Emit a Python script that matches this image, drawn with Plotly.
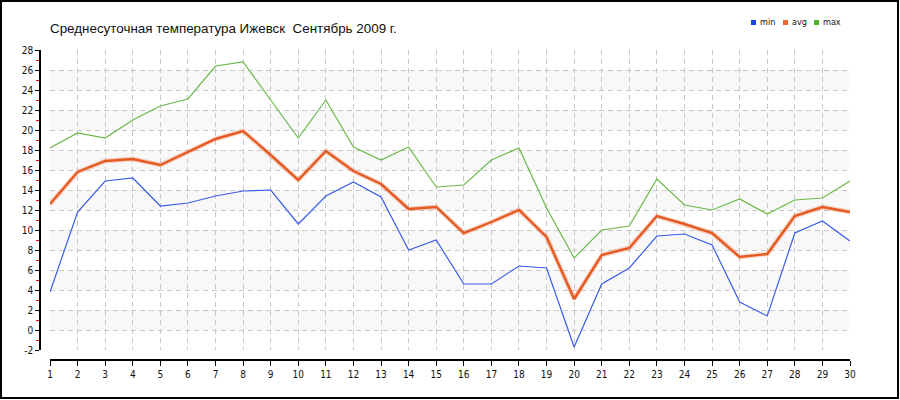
import plotly.graph_objects as go

days = list(range(1, 31))
t_min = [3.8, 11.8, 14.9, 15.2, 12.4, 12.7, 13.4, 13.9, 14.0, 10.6,
         13.4, 14.8, 13.3, 8.0, 9.0, 4.6, 4.6, 6.4, 6.2, -1.7,
         4.6, 6.2, 9.4, 9.6, 8.5, 2.8, 1.4, 9.7, 10.9, 8.9]
t_avg = [12.6, 15.8, 16.9, 17.1, 16.5, 17.8, 19.1, 19.9, 17.5, 15.0,
         17.9, 15.9, 14.6, 12.1, 12.3, 9.7, 10.8, 12.0, 9.3, 3.1,
         7.5, 8.2, 11.4, 10.6, 9.7, 7.3, 7.6, 11.4, 12.3, 11.8]
t_max = [18.2, 19.7, 19.2, 21.0, 22.4, 23.1, 26.4, 26.8, 23.0, 19.2,
         23.0, 18.3, 17.0, 18.3, 14.3, 14.5, 17.0, 18.2, 12.2, 7.2,
         10.0, 10.4, 15.1, 12.5, 12.0, 13.1, 11.6, 13.0, 13.2, 14.9]
y_ticks = list(range(-2, 29, 2))
bands = [(0, 2), (4, 6), (8, 10), (12, 14), (16, 18), (20, 22), (24, 26)]
series_names = ["min", "avg", "max"]

title = "Среднесуточная температура Ижевск  Сентябрь 2009 г."

C_MIN = "#3a5ce8"
C_AVG = "#e45a22"
C_MAX = "#6cb84a"
legend_colors = ["#1f44e6", "#ec6a34", "#4fae2a"]

W, H = 900, 400
l, r, t, b = 40, 50, 50, 40
pw, ph = W - l - r, H - t - b


def px(xp):
    return (xp - l) / pw


def py(yp):
    return 1 - (yp - t) / ph


fig = go.Figure()

fig.add_trace(go.Scatter(x=days, y=t_min, mode="lines", line=dict(color=C_MIN, width=1.2),
                         showlegend=False, name="min"))
fig.add_trace(go.Scatter(x=days, y=t_max, mode="lines", line=dict(color=C_MAX, width=1.2),
                         showlegend=False, name="max"))
fig.add_trace(go.Scatter(x=days, y=t_avg, mode="lines", line=dict(color="rgba(240,140,100,0.35)", width=5),
                         showlegend=False, hoverinfo="skip"))
fig.add_trace(go.Scatter(x=days, y=t_avg, mode="lines", line=dict(color=C_AVG, width=2.4),
                         showlegend=False, name="avg"))

shapes = []
for y0, y1 in bands:
    shapes.append(dict(type="rect", xref="x", yref="y", x0=days[0], x1=days[-1], y0=y0, y1=y1,
                       fillcolor="#f8f8f8", line=dict(width=0), layer="below"))
# outer border
shapes.append(dict(type="rect", xref="paper", yref="paper",
                   x0=px(1), x1=px(898), y0=py(398), y1=py(1),
                   line=dict(color="black", width=2), fillcolor="rgba(0,0,0,0)"))

# manual legend: squares + labels
annotations = []
leg_x = [751, 783, 814]
for i, (nm, col) in enumerate(zip(series_names, legend_colors)):
    x0 = leg_x[i]
    shapes.append(dict(type="rect", xref="paper", yref="paper",
                       x0=px(x0), x1=px(x0 + 5), y0=py(25), y1=py(20),
                       fillcolor=col, line=dict(width=0)))
    annotations.append(dict(text=nm, xref="paper", yref="paper", x=px(x0 + 7), y=py(22),
                            xanchor="left", yanchor="middle", showarrow=False,
                            font=dict(family="DejaVu Sans Condensed, DejaVu Sans", size=9, color="#111")))

tick_font = dict(family="DejaVu Sans Condensed, DejaVu Sans", size=10, color="#111")
grid_dash = "5px,4px"

fig.update_layout(
    width=W, height=H,
    margin=dict(l=l, r=r, t=t, b=b, autoexpand=False),
    paper_bgcolor="white", plot_bgcolor="white",
    title=dict(text=title, xref="container", yref="container", x=50 / W, xanchor="left",
               y=1 - 28 / H, yanchor="middle",
               font=dict(family="Liberation Sans, Arial", size=13.4, color="#111")),
    showlegend=False,
    shapes=shapes,
    annotations=annotations,
    xaxis=dict(domain=[10 / pw, 1], range=[1, 30], anchor="free", position=0,
               tickmode="array", tickvals=days, ticktext=[str(d) for d in days],
               showgrid=True, gridcolor="#c8c8c8", griddash=grid_dash, gridwidth=1,
               showline=True, linecolor="black", linewidth=1.5,
               ticks="outside", ticklen=5, tickcolor="black", tickfont=tick_font,
               zeroline=False, fixedrange=True),
    yaxis=dict(domain=[10 / ph, 1], range=[-2, 28], anchor="free", position=0,
               tickmode="array", tickvals=y_ticks, ticktext=[str(v) for v in y_ticks],
               showgrid=True, gridcolor="#c8c8c8", griddash=grid_dash, gridwidth=1,
               showline=True, linecolor="black", linewidth=1.5,
               ticks="outside", ticklen=4, tickcolor="black", tickfont=tick_font,
               minor=dict(dtick=1, tick0=0, ticks="outside", ticklen=3, tickcolor="red", showgrid=False),
               zeroline=False, fixedrange=True),
)

fig.write_html("out.html", config={"displayModeBar": False},
               post_script="document.body.style.margin='0';document.body.style.padding='0';")
